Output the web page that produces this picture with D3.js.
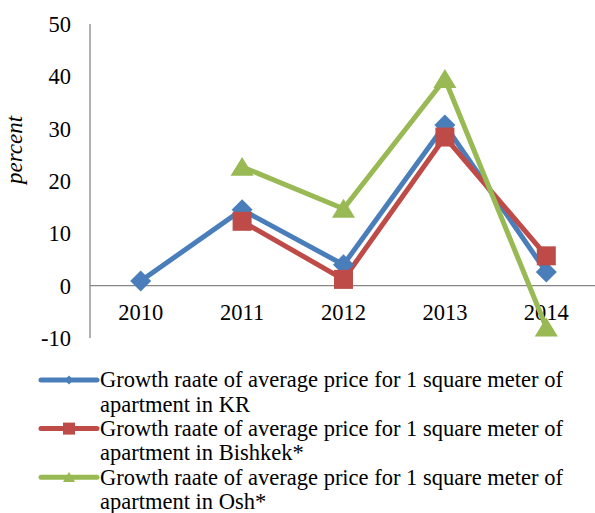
<!DOCTYPE html>
<html><head><meta charset="utf-8">
<script src="https://cdn.jsdelivr.net/npm/d3@7"></script>
<style>body{margin:0;background:#fff}svg{display:block}</style>
</head><body>
<svg id="c" width="595" height="513"></svg>
<script>
const years = ["2010","2011","2012","2013","2014"];
const yTicks = [-10,0,10,20,30,40,50];
const kr = [0.9, 14.5, 4.0, 30.7, 2.6];
const bishkek = [null, 12.3, 1.2, 28.4, 5.7];
const osh = [null, 22.7, 14.7, 39.5, -8.0];
const seriesNames = [
  ["Growth raate of average price for 1 square meter of","apartment in KR"],
  ["Growth raate of average price for 1 square meter of","apartment in Bishkek*"],
  ["Growth raate of average price for 1 square meter of","apartment in Osh*"]
];
const colors = ["#4A7EBB","#BE4B48","#98B954"];

const svg = d3.select("#c");
const font = "'Liberation Serif','Times New Roman',serif";
const x = d3.scaleBand().domain(years).range([90, 597]);
const y = d3.scaleLinear().domain([-10,50]).range([338, 24]);
const cx = d => x(d) + x.bandwidth()/2;

// marker shapes (r = half extent)
const diamond = r => `M0,${-r}L${r},0L0,${r}L${-r},0Z`;
const square = r => `M${-r},${-r}H${r}V${r}H${-r}Z`;
const triangle = r => `M0,${-r*0.95}L${r*1.1},${r*0.85}L${-r*1.1},${r*0.85}Z`;
const shapes = [diamond, square, triangle];

// axes
svg.append("line").attr("x1",90).attr("x2",90).attr("y1",y(50)).attr("y2",y(-10))
  .attr("stroke","#868686").attr("stroke-width",1.3);
svg.append("line").attr("x1",90).attr("x2",595).attr("y1",y(0)).attr("y2",y(0))
  .attr("stroke","#868686").attr("stroke-width",1.3);

svg.selectAll(".yt").data(yTicks).join("text")
  .attr("x",71).attr("y",d=>y(d)).attr("dy","0.35em")
  .attr("text-anchor","end").attr("font-family",font).attr("font-size",22.5)
  .text(d=>d);
svg.selectAll(".xt").data(years).join("text")
  .attr("x",d=>cx(d)).attr("y",320)
  .attr("text-anchor","middle").attr("font-family",font).attr("font-size",22.5)
  .text(d=>d);
svg.append("text").attr("transform","translate(22,150) rotate(-90)")
  .attr("text-anchor","middle").attr("font-family",font).attr("font-size",23)
  .attr("font-style","italic").text("percent");

const data = [kr, bishkek, osh];
const line = d3.line().defined(d=>d.v!=null).x(d=>cx(d.k)).y(d=>y(d.v));
data.forEach((s,i)=>{
  const pts = s.map((v,j)=>({k:years[j],v}));
  svg.append("path").datum(pts).attr("d",line).attr("fill","none")
    .attr("stroke",colors[i]).attr("stroke-width",5).attr("stroke-linejoin","miter");
});
const rs = [10.5, 9.5, 10.5];
data.forEach((s,i)=>{
  const pts = s.map((v,j)=>({k:years[j],v})).filter(d=>d.v!=null);
  svg.selectAll(null).data(pts).join("path")
    .attr("transform",d=>`translate(${cx(d.k)},${y(d.v)})`)
    .attr("d",shapes[i](rs[i])).attr("fill",colors[i]);
});

// legend
const lrs = [4.5, 6, 5.5];
seriesNames.forEach((lines,i)=>{
  const ly = 380 + i*48.6;
  svg.append("line").attr("x1",41).attr("x2",97).attr("y1",ly).attr("y2",ly)
    .attr("stroke",colors[i]).attr("stroke-width",5).attr("stroke-linecap","round");
  svg.append("path").attr("transform",`translate(69,${ly})`)
    .attr("d",shapes[i](lrs[i])).attr("fill",colors[i]);
  lines.forEach((t,k)=>{
    svg.append("text").attr("x",100).attr("y",ly+k*24.3).attr("dy","0.33em")
      .attr("font-family",font).attr("font-size",22.5).text(t);
  });
});
</script>
</body></html>
